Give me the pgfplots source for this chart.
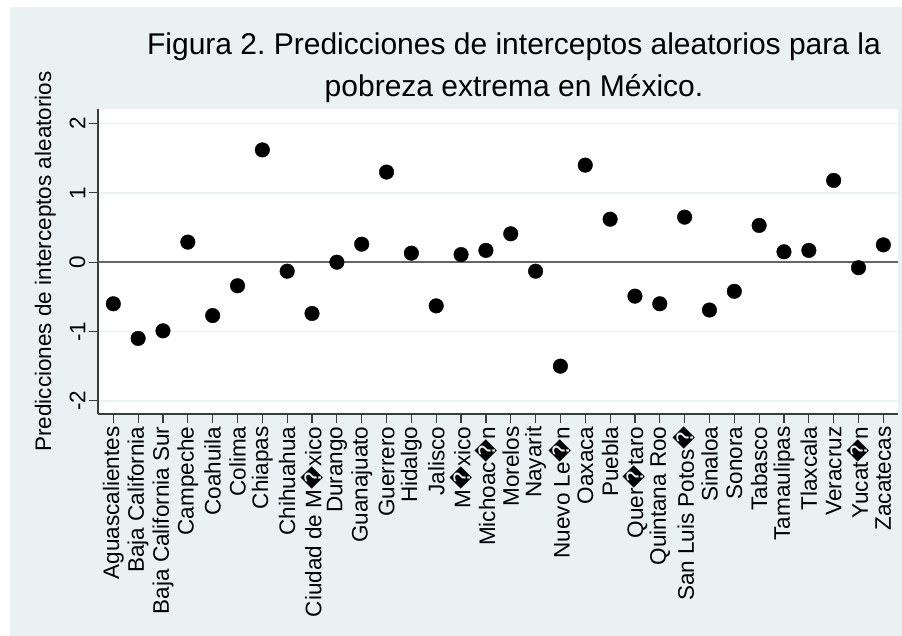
\documentclass[border=0pt]{standalone}
\usepackage{pgfplots}
\pgfplotsset{compat=1.18}
\usepackage{fontspec}
\setmainfont{Liberation Sans}
\newfontfamily\dv{DejaVu Sans}
\newcommand{\rp}{{\dv\symbol{"FFFD}}}
\definecolor{bgcol}{RGB}{233,241,243}
\definecolor{gridcol}{RGB}{234,242,243}
\definecolor{axiscol}{RGB}{60,60,60}
\definecolor{zerocol}{RGB}{100,100,100}
\frenchspacing
\begin{document}
\begin{tikzpicture}
\useasboundingbox (0pt,0pt) rectangle (902pt,636pt);
\fill[bgcol] (10pt,0pt) rectangle (902pt,629pt);
\node[font=\fontsize{30}{36}\selectfont, anchor=base] at (514pt,581pt) {Figura 2. Predicciones de interceptos aleatorios para la};
\node[font=\fontsize{30}{36}\selectfont, anchor=base] at (514pt,539pt) {pobreza extrema en México.};
\begin{axis}[
  at={(98pt,222pt)}, anchor=south west,
  scale only axis, width=800pt, height=305pt,
  xmin=-0.616, xmax=31.59, ymin=-2.19, ymax=2.21,
  axis background/.style={fill=white},
  axis x line*=bottom, axis y line*=left,
  axis line style={axiscol, line width=1.5pt},
  tick align=outside, major tick length=9pt,
  tick style={axiscol, line width=1.2pt},
  xtick={0,...,31},
  xticklabels={Aguascalientes,Baja California,Baja California Sur,Campeche,Coahuila,Colima,Chiapas,Chihuahua,Ciudad de M\rp xico,Durango,Guanajuato,Guerrero,Hidalgo,Jalisco,M\rp xico,Michoac\rp n,Morelos,Nayarit,Nuevo Le\rp n,Oaxaca,Puebla,Quer\rp taro,Quintana Roo,San Luis Potos\rp,Sinaloa,Sonora,Tabasco,Tamaulipas,Tlaxcala,Veracruz,Yucat\rp n,Zacatecas},
  xticklabel style={rotate=90, anchor=east, font=\fontsize{22.5}{24}\selectfont},
  ytick={-2,-1,0,1,2},
  yticklabels={-2,-1,0,1,2},
  yticklabel style={rotate=90, anchor=south, font=\fontsize{22.5}{24}\selectfont},
  ymajorgrids, grid style={gridcol, line width=1.5pt},
  ylabel={Predicciones de interceptos aleatorios},
  ylabel style={at={(axis description cs:-0.066,0.5)}, anchor=center, font=\fontsize{22.5}{24}\selectfont},
  clip=false,
]
\addplot[zerocol, line width=2.5pt] coordinates {(-0.616,0) (31.59,0)};
\addplot[only marks, mark=*, mark size=7.3pt, black] coordinates {
(0,-0.60) (1,-1.10) (2,-0.99) (3,0.29) (4,-0.77) (5,-0.34) (6,1.62) (7,-0.13)
(8,-0.74) (9,0.0) (10,0.26) (11,1.30) (12,0.13) (13,-0.63) (14,0.11) (15,0.17)
(16,0.41) (17,-0.13) (18,-1.50) (19,1.40) (20,0.62) (21,-0.49) (22,-0.60) (23,0.65)
(24,-0.69) (25,-0.42) (26,0.53) (27,0.15) (28,0.17) (29,1.18) (30,-0.08) (31,0.25)
};
\end{axis}
\end{tikzpicture}
\end{document}
